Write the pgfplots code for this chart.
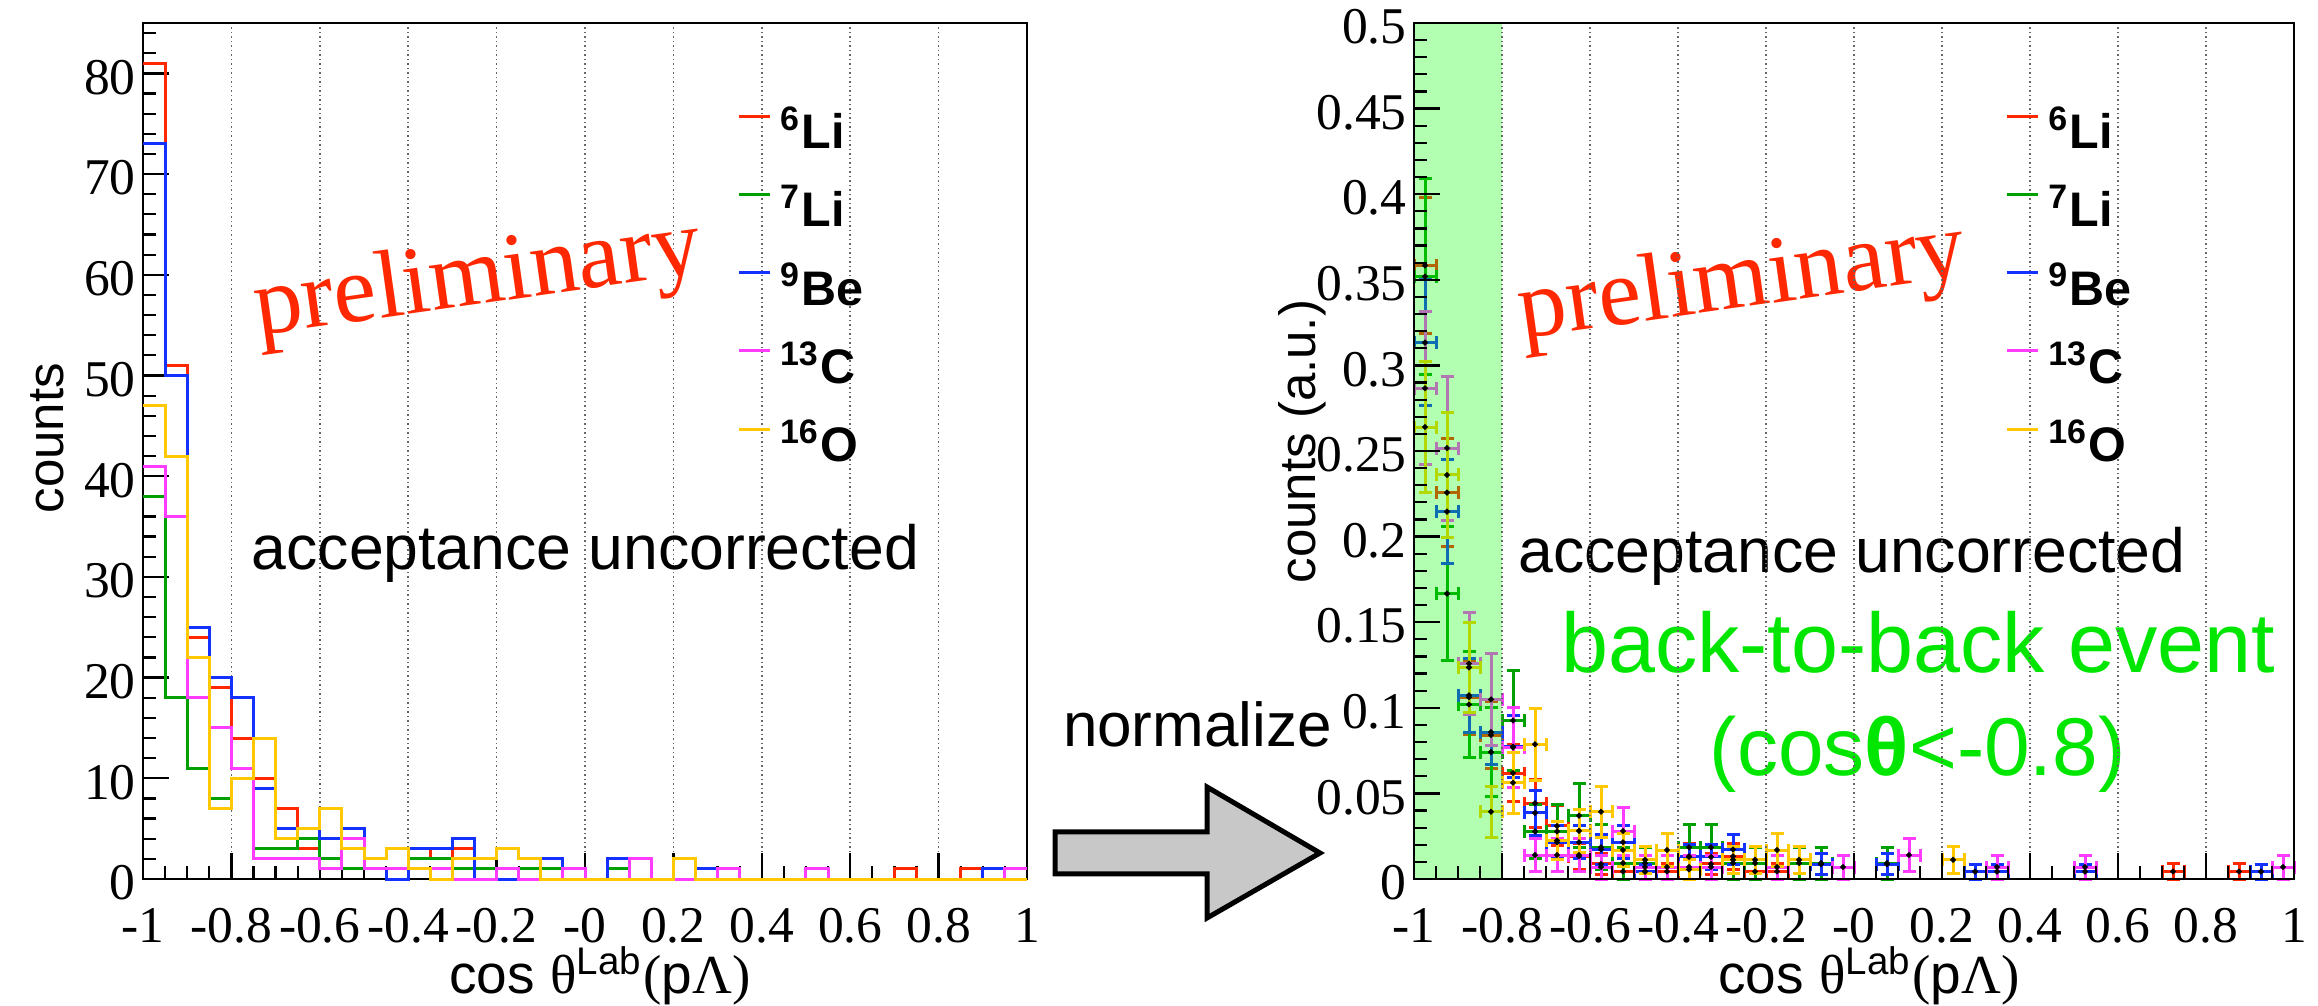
\documentclass[border=0pt]{standalone}
\usepackage{fontspec}
\setmainfont{Liberation Serif}
\setsansfont{Liberation Sans}
\usepackage{pgfplots}
\usepackage{pgfplotstable}
\pgfplotsset{compat=1.18}

\definecolor{hred}{RGB}{255,40,0}
\definecolor{hgreen}{RGB}{0,160,0}
\definecolor{hblue}{RGB}{20,50,255}
\definecolor{hmag}{RGB}{255,60,255}
\definecolor{hyel}{RGB}{255,200,0}
\definecolor{prelim}{RGB}{255,40,0}
\definecolor{btb}{RGB}{0,230,0}
\definecolor{arrowgray}{RGB}{200,200,200}

% left: raw counts, bins of 0.05 (left edges), last row repeats last bin
\pgfplotstableread{
x r g b m y
-1.00 81 38 73 41 47
-0.95 51 18 50 36 42
-0.90 24 11 25 18 22
-0.85 19 8 20 15 7
-0.80 14 10 18 11 10
-0.75 10 3 9 2 14
-0.70 7 3 5 2 4
-0.65 3 4 5 2 5
-0.60 2 2 4 1 7
-0.55 1 1 5 4 3
-0.50 1 1 1 1 2
-0.45 1 0 0 1 3
-0.40 3 2 3 1 1
-0.35 2 2 3 1 0
-0.30 3 1 4 0 2
-0.25 1 1 0 0 2
-0.20 1 0 0 1 3
-0.15 0 1 0 0 2
-0.10 0 1 2 0 0
-0.05 0 0 0 1 0
0.00 0 0 0 0 0
0.05 0 1 2 0 0
0.10 0 0 0 2 0
0.15 0 0 0 0 0
0.20 0 0 0 0 2
0.25 0 0 1 0 0
0.30 0 0 1 1 0
0.35 0 0 0 0 0
0.40 0 0 0 0 0
0.45 0 0 0 0 0
0.50 0 0 1 1 0
0.55 0 0 0 0 0
0.60 0 0 0 0 0
0.65 0 0 0 0 0
0.70 1 0 0 0 0
0.75 0 0 0 0 0
0.80 0 0 0 0 0
0.85 1 0 0 0 0
0.90 0 0 1 0 0
0.95 0 0 0 1 0
1.00 0 0 0 1 0
}\hist

% right: normalized counts
\pgfplotstableread{
x y ey
-0.975 0.3584 0.0398
-0.925 0.2257 0.0316
-0.875 0.1062 0.0217
-0.825 0.0841 0.0193
-0.775 0.0619 0.0166
-0.725 0.0442 0.0140
-0.675 0.0310 0.0117
-0.625 0.0133 0.0077
-0.575 0.0088 0.0063
-0.525 0.0044 0.0044
-0.475 0.0044 0.0044
-0.425 0.0044 0.0044
-0.375 0.0133 0.0077
-0.325 0.0088 0.0063
-0.275 0.0133 0.0077
-0.225 0.0044 0.0044
-0.175 0.0044 0.0044
0.725 0.0044 0.0044
0.875 0.0044 0.0044
}\nred

\pgfplotstableread{
x y ey
-0.975 0.3519 0.0571
-0.925 0.1667 0.0393
-0.875 0.1019 0.0307
-0.825 0.0741 0.0262
-0.775 0.0926 0.0293
-0.725 0.0278 0.0160
-0.675 0.0278 0.0160
-0.625 0.0370 0.0185
-0.575 0.0185 0.0131
-0.525 0.0093 0.0093
-0.475 0.0093 0.0093
-0.375 0.0185 0.0131
-0.325 0.0185 0.0131
-0.275 0.0093 0.0093
-0.225 0.0093 0.0093
-0.125 0.0093 0.0093
-0.075 0.0093 0.0093
0.075 0.0093 0.0093
}\ngreen

\pgfplotstableread{
x y ey
-0.975 0.3133 0.0367
-0.925 0.2146 0.0303
-0.875 0.1073 0.0215
-0.825 0.0858 0.0192
-0.775 0.0773 0.0182
-0.725 0.0386 0.0129
-0.675 0.0215 0.0096
-0.625 0.0215 0.0096
-0.575 0.0172 0.0086
-0.525 0.0215 0.0096
-0.475 0.0043 0.0043
-0.375 0.0129 0.0074
-0.325 0.0129 0.0074
-0.275 0.0172 0.0086
-0.075 0.0086 0.0061
0.075 0.0086 0.0061
0.275 0.0043 0.0043
0.325 0.0043 0.0043
0.525 0.0043 0.0043
0.925 0.0043 0.0043
}\nblue

\pgfplotstableread{
x y ey
-0.975 0.2867 0.0448
-0.925 0.2517 0.0420
-0.875 0.1259 0.0297
-0.825 0.1049 0.0271
-0.775 0.0769 0.0232
-0.725 0.0140 0.0099
-0.675 0.0140 0.0099
-0.625 0.0140 0.0099
-0.575 0.0070 0.0070
-0.525 0.0280 0.0140
-0.475 0.0070 0.0070
-0.425 0.0070 0.0070
-0.375 0.0070 0.0070
-0.325 0.0070 0.0070
-0.175 0.0070 0.0070
-0.025 0.0070 0.0070
0.125 0.0140 0.0099
0.325 0.0070 0.0070
0.525 0.0070 0.0070
0.975 0.0070 0.0070
}\nmag

\pgfplotstableread{
x y ey
-0.975 0.2640 0.0385
-0.925 0.2360 0.0364
-0.875 0.1236 0.0264
-0.825 0.0393 0.0149
-0.775 0.0562 0.0178
-0.725 0.0787 0.0210
-0.675 0.0225 0.0112
-0.625 0.0281 0.0126
-0.575 0.0393 0.0149
-0.525 0.0169 0.0097
-0.475 0.0112 0.0079
-0.425 0.0169 0.0097
-0.375 0.0056 0.0056
-0.275 0.0112 0.0079
-0.225 0.0112 0.0079
-0.175 0.0169 0.0097
-0.125 0.0112 0.0079
0.225 0.0112 0.0079
}\nyel

\newcommand{\sfz}[1]{\sffamily\fontsize{#1}{#1}\selectfont}
\newcommand{\rmz}[1]{\rmfamily\fontsize{#1}{#1}\selectfont}

\pgfplotsset{
  rootaxis/.style={
    scale only axis, anchor=south west, clip=false,
    xmin=-1, xmax=1,
    axis line style={line width=0.55pt, black},
    tick style={black, line width=0.45pt},
    tick align=inside, xtick pos=bottom, ytick pos=left,
    major tick length=5.2pt, minor tick length=2.6pt,
    xtick={-1,-0.8,-0.6,-0.4,-0.2,0,0.2,0.4,0.6,0.8,1},
    xticklabels={-1,-0.8,-0.6,-0.4,-0.2,-0,0.2,0.4,0.6,0.8,1},
    minor x tick num=3,
    xmajorgrids,
    major x grid style={line width=0.3pt, black!60, dash pattern=on 0.3pt off 0.6pt},
    tick label style={font=\rmz{10.3}, inner sep=0pt},
    xticklabel style={anchor=north, yshift=-5.6pt},
    yticklabel style={anchor=east, xshift=-1.3pt, yshift=-0.8pt},
    legend style={draw=none, fill=none, inner sep=0pt, outer sep=0pt,
      at={(0.672,0.902)}, anchor=north west,
      font=\sffamily\bfseries\fontsize{9.7}{11}\selectfont,
      row sep=5.8pt, column sep=1.8pt,
      nodes={inner sep=0pt, outer sep=0pt}},
    legend cell align=left,
    legend image code/.code={\draw[line width=0.6pt,#1] (0pt,3.1pt) -- (6.2pt,3.1pt);},
  },
  hist/.style={const plot mark left, line width=0.6pt, forget plot},
  pts/.style={only marks, mark=*, mark size=0.35pt, mark options={fill=black, draw=black},
    forget plot,
    error bars/x dir=both, error bars/x fixed=0.025,
    error bars/y dir=both, error bars/y explicit,
    error bars/error bar style={line width=0.6pt},
    error bars/error mark options={rotate=90, mark size=1.3pt, line width=0.6pt}},
}

\newcommand{\xtitle}{\node[anchor=base, inner sep=0pt, font=\sfz{11}] at ([xshift=3pt,yshift=-23pt]rel axis cs:0.5,0)
  {cos {\rmfamily θ}\textsuperscript{Lab}{\rmfamily (}p{\rmfamily Λ)}};}

\begin{document}
\begin{tikzpicture}

% ---------------- left: raw counts ----------------
\begin{axis}[rootaxis,
  at={(28.6pt,25.2pt)}, width=176.8pt, height=171.2pt,
  ymin=0, ymax=85,
  ytick={0,10,20,30,40,50,60,70,80},
  yticklabels={0,10,20,30,40,50,60,70,80},
  minor ytick={2,4,6,8,12,14,16,18,22,24,26,28,32,34,36,38,42,44,46,48,52,54,56,58,62,64,66,68,72,74,76,78,82,84},
]
\addplot[hist, hred] table[x=x, y=r] {\hist};
\addplot[hist, hgreen] table[x=x, y=g] {\hist};
\addplot[hist, hblue] table[x=x, y=b] {\hist};
\addplot[hist, hmag] table[x=x, y=m] {\hist};
\addplot[hist, hyel] table[x=x, y=y] {\hist};
\addlegendimage{hred}
\addlegendimage{hgreen}
\addlegendimage{hblue}
\addlegendimage{hmag}
\addlegendimage{hyel}
\legend{\textsuperscript{6}Li,\textsuperscript{7}Li,\textsuperscript{9}Be,\textsuperscript{13}C,\textsuperscript{16}O}

\node[anchor=base west, rotate=8, inner sep=0pt, text=prelim, font=\rmz{19.3}] at (axis cs:-0.742,53.97) {preliminary};
\node[anchor=base west, inner sep=0pt, font=\sfz{12.5}] at (axis cs:-0.756,30.75) {acceptance uncorrected};
\xtitle
\node[anchor=center, rotate=90, inner sep=0pt, font=\sfz{10.2}] at ([xshift=-19.2pt]rel axis cs:0,0.515) {counts};
\end{axis}

% ---------------- arrow + normalize ----------------
\draw[line width=1pt, fill=arrowgray, line join=miter]
  (211pt,34.6pt) -- (241.4pt,34.6pt) -- (241.4pt,43.6pt) -- (264pt,30.4pt)
  -- (241.4pt,17.4pt) -- (241.4pt,26.2pt) -- (211pt,26.2pt) -- cycle;
\node[anchor=base west, inner sep=0pt, font=\sfz{12.4}] at (212.4pt,51.6pt) {normalize};

% ---------------- right: normalized ----------------
\begin{axis}[rootaxis,
  at={(282.8pt,25.2pt)}, width=176pt, height=171.2pt,
  ymin=0, ymax=0.5,
  axis on top,
  ytick={0,0.05,0.1,0.15,0.2,0.25,0.3,0.35,0.4,0.45,0.5},
  yticklabels={0,0.05,0.1,0.15,0.2,0.25,0.3,0.35,0.4,0.45,0.5},
  minor y tick num=4,
]
\addplot[hred, pts] table[x=x, y=y, y error=ey] {\nred};
\addplot[hgreen, pts] table[x=x, y=y, y error=ey] {\ngreen};
\addplot[hblue, pts] table[x=x, y=y, y error=ey] {\nblue};
\addplot[hmag, pts] table[x=x, y=y, y error=ey] {\nmag};
\addplot[hyel, pts] table[x=x, y=y, y error=ey] {\nyel};
\addplot[draw=none, fill=green, fill opacity=0.3, forget plot] coordinates {(-1,0.5) (-0.8,0.5)} \closedcycle;
\addlegendimage{hred}
\addlegendimage{hgreen}
\addlegendimage{hblue}
\addlegendimage{hmag}
\addlegendimage{hyel}
\legend{\textsuperscript{6}Li,\textsuperscript{7}Li,\textsuperscript{9}Be,\textsuperscript{13}C,\textsuperscript{16}O}

\node[anchor=base west, rotate=8, inner sep=0pt, text=prelim, font=\rmz{19.3}] at (axis cs:-0.755,0.3158) {preliminary};
\node[anchor=base west, inner sep=0pt, font=\sfz{12.5}] at (axis cs:-0.765,0.179) {acceptance uncorrected};
\node[anchor=base, inner sep=0pt, text=btb, font=\sfz{16.9}] at (axis cs:0.1455,0.1205) {back-to-back event};
\node[anchor=base, inner sep=0pt, text=btb, font=\sfz{16.4}] at (axis cs:0.145,0.0602) {(cos{\bfseries θ}<-0.8)};
\xtitle
\node[anchor=center, rotate=90, inner sep=0pt, font=\sfz{10.2}] at ([xshift=-22.4pt]rel axis cs:0,0.511) {counts (a.u.)};
\end{axis}

\pgfresetboundingbox
\path[use as bounding box] (0pt,0pt) rectangle (463.6pt,201pt);
\end{tikzpicture}
\end{document}
